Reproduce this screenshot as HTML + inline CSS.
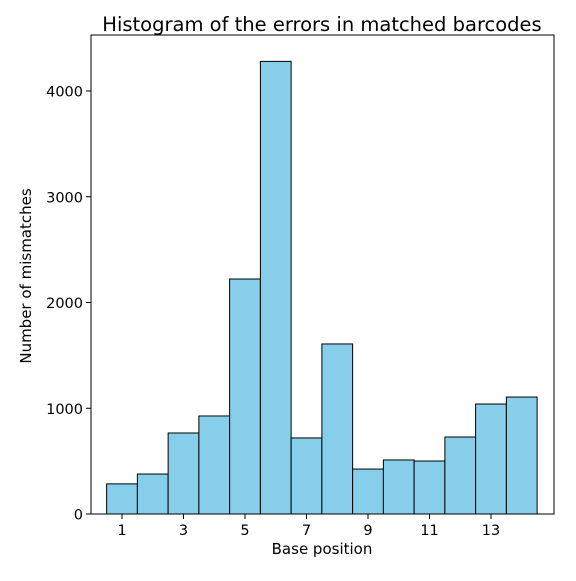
<!DOCTYPE html>
<html><head><meta charset="utf-8"><style>
body{margin:0;background:#fff;}
svg text{font-family:"DejaVu Sans","Liberation Sans",sans-serif;fill:#000;}
</style></head><body>
<svg id="chart" width="576" height="576" viewBox="0 0 576 576">
<rect x="0" y="0" width="576" height="576" fill="#fff"/>
<text x="322" y="31" font-size="19.5" text-anchor="middle">Histogram of the errors in matched barcodes</text>
<g id="bars"></g>
<rect x="91" y="35" width="463" height="479" fill="none" stroke="#000" stroke-width="1"/>
<g id="axes"></g>
<text x="322" y="554" font-size="15" text-anchor="middle">Base position</text>
<text x="31" y="276" font-size="15" text-anchor="middle" transform="rotate(-90 31 276)">Number of mismatches</text>
</svg>
<script>
const positions=[1,2,3,4,5,6,7,8,9,10,11,12,13,14];
const counts=[285,378,766,927,2222,4280,719,1608,425,511,501,728,1040,1106];
const xTicks=[1,3,5,7,9,11,13];
const yTicks=[0,1000,2000,3000,4000];
const NS="http://www.w3.org/2000/svg";
function xs(v){return 122+(v-1)*30.75;}
function ys(v){return 514-v*0.10575;}
const bw=30.75;
const bars=document.getElementById('bars');
positions.forEach((p,i)=>{
 const r=document.createElementNS(NS,'rect');
 r.setAttribute('x',xs(p)-bw/2);r.setAttribute('y',ys(counts[i]));
 r.setAttribute('width',bw);r.setAttribute('height',ys(0)-ys(counts[i]));
 r.setAttribute('fill','#87ceeb');r.setAttribute('stroke','#000');r.setAttribute('stroke-width','1');
 
 
 bars.appendChild(r);
});
const ax=document.getElementById('axes');
xTicks.forEach(t=>{
 const l=document.createElementNS(NS,'line');
 l.setAttribute('x1',xs(t));l.setAttribute('x2',xs(t));l.setAttribute('y1',514);l.setAttribute('y2',519);l.setAttribute('stroke','#000');
 
 
 ax.appendChild(l);
 const tx=document.createElementNS(NS,'text');
 tx.setAttribute('x',xs(t));tx.setAttribute('y',535);tx.setAttribute('font-size','14.5');tx.setAttribute('text-anchor','middle');
 tx.textContent=t;
 
 
 ax.appendChild(tx);
});
yTicks.forEach(t=>{
 const l=document.createElementNS(NS,'line');
 l.setAttribute('x1',86);l.setAttribute('x2',91);l.setAttribute('y1',ys(t));l.setAttribute('y2',ys(t));l.setAttribute('stroke','#000');
 
 
 ax.appendChild(l);
 const tx=document.createElementNS(NS,'text');
 tx.setAttribute('x',83);tx.setAttribute('y',ys(t)+5.5);tx.setAttribute('font-size','14.5');tx.setAttribute('text-anchor','end');
 tx.textContent=t;
 
 
 ax.appendChild(tx);
});
</script>
</body></html>
